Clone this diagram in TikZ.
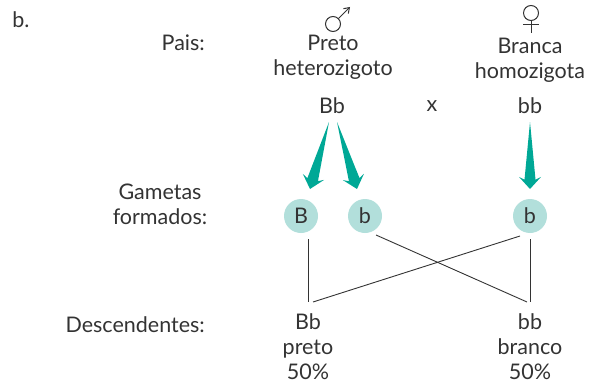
\documentclass[tikz,border=0pt]{standalone}
\usepackage{fontspec}
\setmainfont{Lato}
\usetikzlibrary{arrows.meta,calc,positioning}
\definecolor{tealarrow}{HTML}{00A896}
\definecolor{tealcircle}{HTML}{B2DFDB}
\definecolor{inktext}{HTML}{333333}
\newcommand{\gamarrow}[2]{\fill[tealarrow] (#1) -- ($(#1)!0.86!(#2)!5.5pt!90:(#2)$) -- ($(#1)!0.82!(#2)!11pt!90:(#2)$) -- (#2) -- ($(#1)!0.82!(#2)!11pt!-90:(#2)$) -- ($(#1)!0.86!(#2)!5.5pt!-90:(#2)$) -- cycle;}

\begin{document}
\begin{tikzpicture}[
		x=1pt, y=-1pt,
		txt/.style={align=center, inner sep=0pt, text=inktext, font=\fontsize{21.5}{25}\selectfont},
		gamete/.style={circle, fill=tealcircle, minimum size=34pt, inner sep=0pt, text=inktext, font=\fontsize{21.5}{25}\selectfont},
		cross/.style={draw=inktext, line width=0.9pt},
		sex/.style={draw=inktext, line width=1pt},
	]
		\useasboundingbox (0,0) rectangle (593,385);
		\node (item) [txt] at (21,20) {b.};

		% row labels
		\node (pais) [txt, anchor=east] at (205,43) {Pais:};
		\node (gam) [txt] at (160,204) {Gametas\\formados:};
		\node (desc) [txt, anchor=east] at (205,325) {Descendentes:};

		% parents
		\node (pai) [txt] at (333,57) {Preto\\heterozigoto};
		\node (mae) [txt] at (530,60) {Branca\\homozigota};
		\node (gpai) [txt] at (332,106) {Bb};
		\node (vezes) [txt] at (432,106) {x};
		\node (gmae) [txt] at (530,106) {bb};

		\draw[sex] (333,24) circle (7.5);
		\draw[sex, -{Straight Barb[length=5pt,width=7pt]}] (338.5,18.5) -- (350,7);
		\draw[sex] (531,13) circle (7.5);
		\draw[sex] (531,20.5) -- (531,33);
		\draw[sex] (523,25) -- (539,25);

		% gametes
		\node (gB) [gamete] at (301,216) {B};
		\node (gb1) [gamete] at (365,216) {b};
		\node (gb2) [gamete] at (530,216) {b};

		\coordinate (a1) at (329,122);
		\coordinate (a2) at (337,122);
		\coordinate (a3) at (530,122);
		\coordinate (t1) at (310,189);
		\coordinate (t2) at (357,189);
		\coordinate (t3) at (530,189);
		\gamarrow{a1}{t1}
		\gamarrow{a2}{t2}
		\gamarrow{a3}{t3}

		% offspring
		\node (f1) [txt] at (308,347) {Bb\\preto\\50\%};
		\node (f2) [txt] at (530,347) {bb\\branco\\50\%};

		\coordinate (f1a) at (308,302);
		\coordinate (f1b) at (313,302);
		\coordinate (f2a) at (530,302);
		\coordinate (f2b) at (527,302);
		\coordinate (s1) at (308,239);
		\coordinate (s2) at (376,235);
		\coordinate (s3) at (520,236);
		\coordinate (s4) at (530,239);
		\draw[cross] (s1) -- (f1a);
		\draw[cross] (s2) -- (f2b);
		\draw[cross] (s3) -- (f1b);
		\draw[cross] (s4) -- (f2a);
	\end{tikzpicture}
\end{document}
